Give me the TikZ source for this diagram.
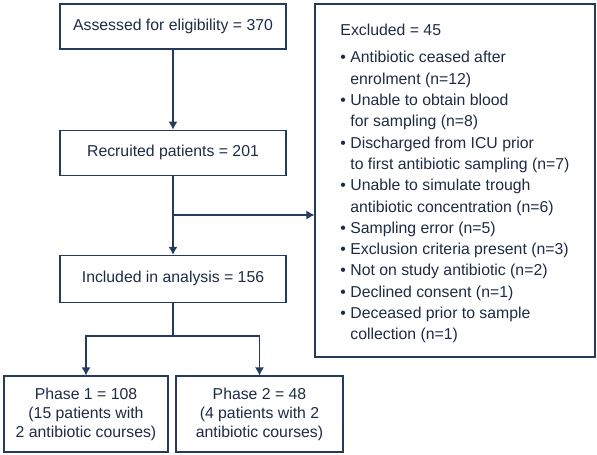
\documentclass[tikz,border=0pt]{standalone}
\usepackage{fontspec}
\setmainfont{Liberation Sans}
\usetikzlibrary{positioning, arrows.meta}
\definecolor{flowline}{HTML}{243B5E}
\definecolor{flowtext}{HTML}{1E2B44}

\begin{document}
\begin{tikzpicture}[
    x=1pt, y=1pt,
    node distance=80pt,
    every node/.style={text=flowtext, font=\fontsize{15.8}{19}\selectfont},
    flowbox/.style={draw=flowline, line width=1.2pt, minimum width=226pt, minimum height=45pt, align=center},
    phasebox/.style={draw=flowline, line width=1.2pt, minimum height=76pt, align=center},
    exclbox/.style={draw=flowline, line width=1.2pt, minimum width=280pt, minimum height=353pt, inner sep=0pt},
    arrow/.style={-{Latex[length=8pt,width=9pt]}, line width=1.2pt, draw=flowline}
]
\useasboundingbox (0,0) rectangle (597,-455);

\node[flowbox] (assessed) at (173,-26.5) {Assessed for eligibility = 370};
\node[flowbox, below=of assessed] (recruited) {Recruited patients = 201};
\node[flowbox, below=79pt of recruited, minimum height=47pt] (included) {Included in analysis = 156};
\node[phasebox, minimum width=164pt] (phase1) at (86,-414) {Phase 1 = 108\\(15 patients with\\2 antibiotic courses)};
\node[phasebox, minimum width=167pt] (phase2) at (259.5,-414) {Phase 2 = 48\\(4 patients with 2\\antibiotic courses)};
\node[exclbox, font=\fontsize{15.8}{21.3}\selectfont] (excluded) at (455,-180.5) {%
\begin{tabular}{@{}l@{\hspace{4.4pt}}l@{}}
\multicolumn{2}{@{}l@{}}{Excluded = 45}\\[6pt]
\textbullet & Antibiotic ceased after\\
 & enrolment (n=12)\\
\textbullet & Unable to obtain blood\\
 & for sampling (n=8)\\
\textbullet & Discharged from ICU prior\\
 & to first antibiotic sampling (n=7)\\
\textbullet & Unable to simulate trough\\
 & antibiotic concentration (n=6)\\
\textbullet & Sampling error (n=5)\\
\textbullet & Exclusion criteria present (n=3)\\
\textbullet & Not on study antibiotic (n=2)\\
\textbullet & Declined consent (n=1)\\
\textbullet & Deceased prior to sample\\
 & collection (n=1)\\[-6pt]
\end{tabular}};

\coordinate (split) at (173,-215);
\coordinate (fork) at (173,-336);

\draw[arrow] (assessed) -- (recruited);
\draw[arrow] (recruited) -- (included);
\draw[arrow] (split) -- (split -| excluded.west);
\draw[arrow] (fork) -| (phase1.north);
\draw[arrow] (fork) -| (phase2.north);
\draw[line width=1.2pt, draw=flowline] (included) -- (fork);

\end{tikzpicture}
\end{document}
